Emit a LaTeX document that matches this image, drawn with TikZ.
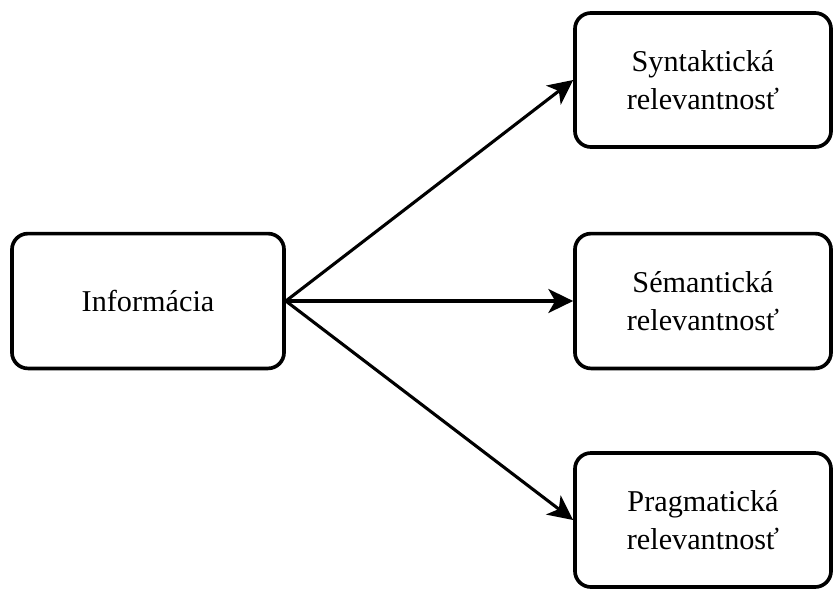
\documentclass[tikz,border=0pt]{standalone}
\usepackage{fontspec}
\setmainfont{Liberation Serif}
\usetikzlibrary{arrows.meta}

\begin{document}
\begin{tikzpicture}[x=0.025cm,y=-0.025cm,
  box/.style={draw,line width=2.6pt,rounded corners=0.4cm,align=center,
    font=\fontsize{21.5}{27}\selectfont,inner sep=0pt},
  arr/.style={line width=2.2pt,-{Stealth[length=0.62cm,width=0.6cm,inset=0.17cm]}}]
  \useasboundingbox (0,0) rectangle (834,588);
  \node [box,minimum width=6.8cm,minimum height=3.37cm] (inf) at (148,301) {Informácia};
  \node [box,minimum width=6.4cm,minimum height=3.35cm] (syn) at (703,80) {Syntaktická\\relevantnosť};
  \node [box,minimum width=6.4cm,minimum height=3.37cm] (sem) at (703,301) {Sémantická\\relevantnosť};
  \node [box,minimum width=6.4cm,minimum height=3.35cm] (prag) at (703,520) {Pragmatická\\relevantnosť};
  \draw [arr] (inf.east) -- (syn.west);
  \draw [arr] (inf.east) -- (sem.west);
  \draw [arr] (inf.east) -- (prag.west);
\end{tikzpicture}
\end{document}
